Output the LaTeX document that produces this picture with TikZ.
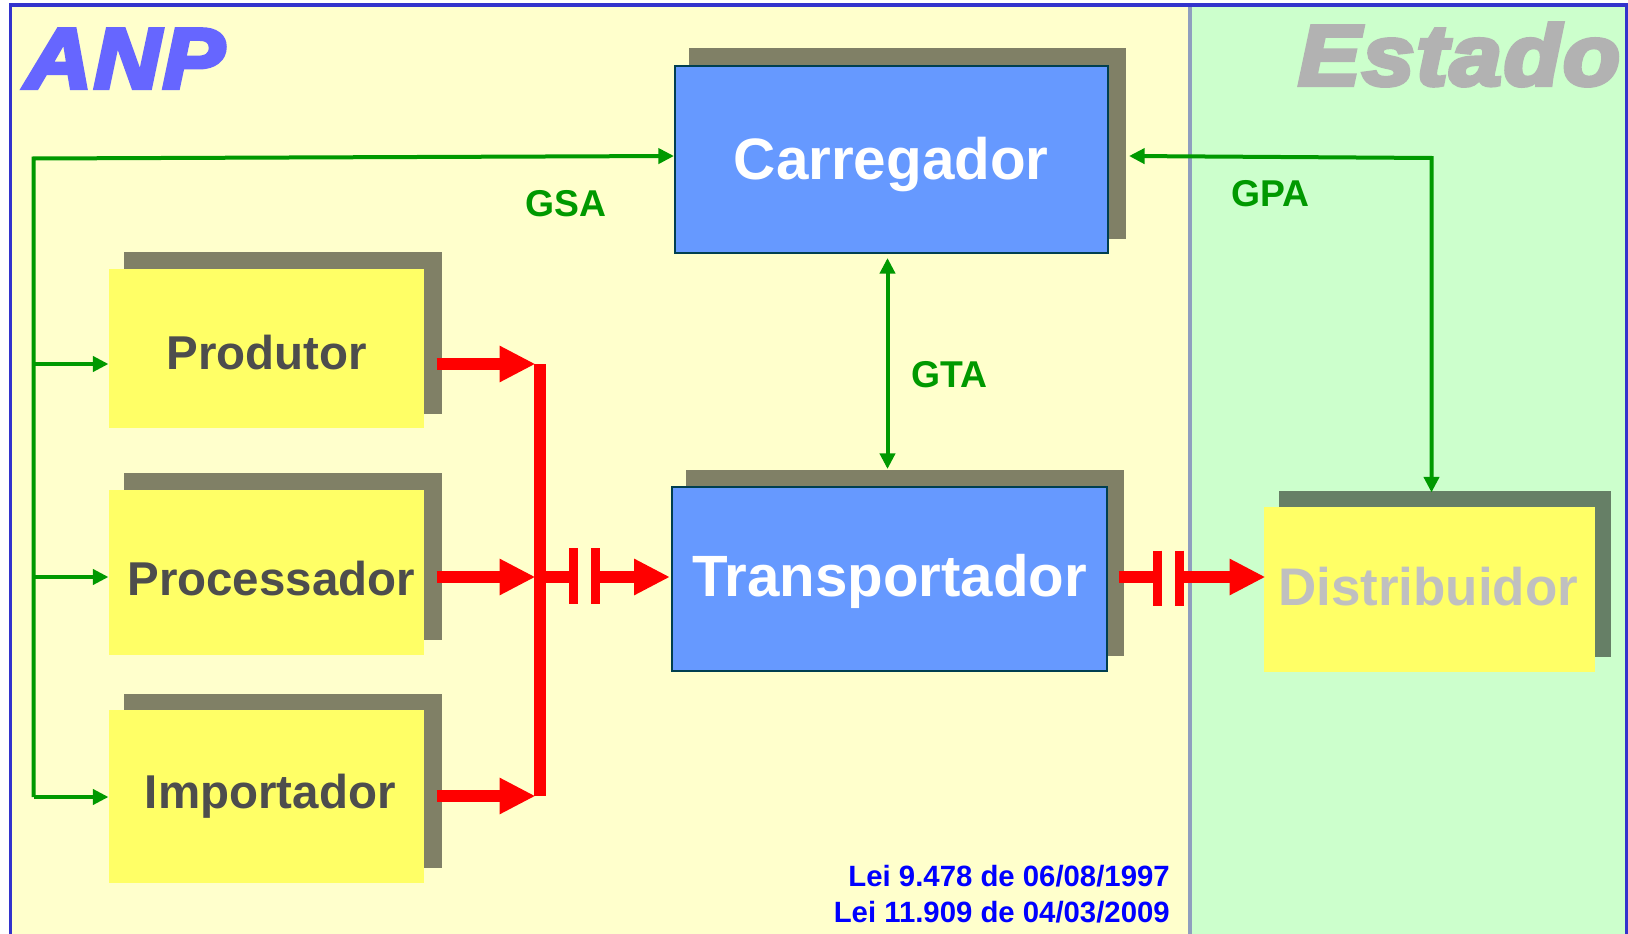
\documentclass[tikz,border=0pt]{standalone}
\usepackage{graphicx}
\usepackage{fontspec}
\setmainfont{Liberation Sans}
\newfontface\heavyfont{Liberation Sans Bold Italic}[FakeBold=5,LetterSpace=2.5]
\usetikzlibrary{arrows.meta,calc}
\definecolor{paleyellow}{HTML}{FFFFCC}
\definecolor{palegreen}{HTML}{CCFFCC}
\definecolor{framecol}{HTML}{3333CC}
\definecolor{dividercol}{HTML}{8F9FBF}
\definecolor{boxyellow}{HTML}{FFFF66}
\definecolor{boxblue}{HTML}{6699FF}
\definecolor{boxedge}{HTML}{003F4F}
\definecolor{shadeY}{HTML}{808066}
\definecolor{shadeG}{HTML}{667F66}
\definecolor{linkgreen}{HTML}{009900}
\definecolor{darktext}{HTML}{4D4D4D}
\definecolor{fadetext}{HTML}{C0C0C0}
\definecolor{anpcol}{HTML}{6666FF}
\definecolor{estadocol}{HTML}{B2B2B2}
\tikzset{
  flowbase/.style={inner sep=0pt,outer sep=0pt,anchor=center,font=\bfseries},
  yellowbox/.style={flowbase,fill=boxyellow,text=darktext},
  bluebox/.style={flowbase,fill=boxblue,draw=boxedge,line width=1.5pt,text=white},
  shadebox/.style={inner sep=0pt,outer sep=0pt,anchor=center},
  greenlink/.style={draw=linkgreen,line width=3pt,line join=miter},
  greenhead/.style={-{Triangle[length=11.7pt,width=11.25pt]}},
  greenboth/.style={{Triangle[length=11.7pt,width=11.25pt]}-{Triangle[length=11.7pt,width=11.25pt]}},
  redlink/.style={draw=red,line width=9pt},
  redhead/.style={redlink,-{Triangle[length=27pt,width=25.5pt]}},
  redbar/.style={draw=red,line width=6.75pt},
  linklabel/.style={anchor=base,inner sep=0pt,text=linkgreen,font=\fontsize{28}{32}\selectfont\bfseries},
  lawlabel/.style={anchor=base east,inner sep=0pt,text=blue,font=\fontsize{22}{26}\selectfont\bfseries},
  bigmark/.style={anchor=base west,inner sep=0pt,font=\fontsize{64}{70}\selectfont\heavyfont}
}
% name, style, x1, y1, x2, y2, baseline, text shift, text (all in reference pixels)
\newcommand{\flowbox}[9]{%
  \pgfmathsetmacro\fbW{(#5-#3)*0.75}%
  \pgfmathsetmacro\fbH{(#7-#4)*0.75}%
  \pgfmathsetmacro\fbD{(#6-#7)*0.75}%
  \pgfmathsetmacro\fbS{2*(#8)*0.75}%
  \node[#2,minimum width=\fbW pt,text height=\fbH pt,text depth=\fbD pt] (#1) at ({(#3+#5)/2},{(#4+#6)/2}) {\hspace*{\fbS pt}#9};}
\newcommand{\shadeblock}[6]{%
  \pgfmathsetmacro\fbW{(#5-#3)*0.75}%
  \pgfmathsetmacro\fbH{(#6-#4)*0.75}%
  \node[shadebox,fill=#2,minimum width=\fbW pt,minimum height=\fbH pt] (#1) at ({(#3+#5)/2},{(#4+#6)/2}) {};}
\begin{document}
\begin{tikzpicture}[x=0.75pt,y=-0.75pt]
\useasboundingbox (0,0) rectangle (1628,934);
% panels
\fill[white] (0,0) rectangle (1628,934);
\fill[paleyellow] (10,5) rectangle (1190,934);
\fill[palegreen] (1190,5) rectangle (1627,934);
\draw[dividercol,line width=2.6pt] (1190,5) -- (1190,934);
\draw[framecol,line width=2.4pt] (10.5,934) -- (10.5,5) -- (1626.5,5) -- (1626.5,934);
% headings
\node[bigmark,text=anpcol] (anp) at (25,88) {\scalebox{1.08}[1]{ANP}};
\node[bigmark,text=estadocol] (estado) at (1298,85) {\scalebox{1.09}[1]{Estado}};
% shadows
\shadeblock{carrS}{shadeY}{689}{48}{1126}{239}
\shadeblock{transS}{shadeY}{686}{470}{1124}{656}
\shadeblock{prodS}{shadeY}{124}{252}{441.5}{414}
\shadeblock{procS}{shadeY}{124}{473}{441.5}{640}
\shadeblock{impS}{shadeY}{124}{693.5}{441.5}{868}
\shadeblock{distS}{shadeG}{1279}{490.5}{1611}{657}
% boxes
\flowbox{carr}{bluebox,font=\fontsize{43.8}{50}\selectfont\bfseries}{674.5}{66}{1108}{253.5}{179.5}{0}{Carregador}
\flowbox{trans}{bluebox,font=\fontsize{43.7}{50}\selectfont\bfseries}{672}{487}{1107}{671}{596.5}{0}{Transportador}
\flowbox{prod}{yellowbox,font=\fontsize{35.6}{40}\selectfont\bfseries}{108.5}{269}{424}{428}{369.5}{0.5}{Produtor}
\flowbox{proc}{yellowbox,font=\fontsize{35.6}{40}\selectfont\bfseries}{108.5}{490}{424}{655}{595}{5}{Processador}
\flowbox{imp}{yellowbox,font=\fontsize{35.6}{40}\selectfont\bfseries}{108.5}{710}{424}{882.5}{808}{4}{Importador}
\flowbox{dist}{yellowbox,text=fadetext,font=\fontsize{39.7}{44}\selectfont\bfseries}{1263.5}{507}{1595}{672}{605}{-1}{Distribuidor}
% green connectors
\coordinate (trunkTop) at (33.5,158.5);
\coordinate (trunkProd) at (33.5,364);
\coordinate (trunkProc) at (33.5,577);
\coordinate (trunkImp) at (33.5,797);
\coordinate (gsaEnd) at (674,156);
\coordinate (gpaEnd) at (1129,156);
\coordinate (gpaCorner) at (1431.5,158);
\coordinate (gtaTop) at (887.5,258);
\coordinate (gtaBottom) at (887.5,469);
\draw[greenlink,greenhead] (trunkImp) -- (trunkTop) -- (gsaEnd);
\draw[greenlink,greenhead] (trunkProd) -- (trunkProd -| prod.west);
\draw[greenlink,greenhead] (trunkProc) -- (trunkProc -| proc.west);
\draw[greenlink,greenhead] (trunkImp) -- (trunkImp -| imp.west);
\draw[greenlink,greenboth] (gpaEnd) -- (gpaCorner) -- ([yshift=-1.5pt]gpaCorner |- distS.north);
\draw[greenlink,greenboth] (gtaTop) -- (gtaBottom);
% red connectors
\coordinate (busTop) at (539.7,364);
\coordinate (busMid) at (539.7,577);
\coordinate (busBot) at (539.7,796);
\coordinate (prodOut) at (436.7,364);
\coordinate (procOut) at (436.7,577);
\coordinate (impOut) at (436.7,796);
\coordinate (barA) at (573.5,577);
\coordinate (barB) at (595.5,577);
\coordinate (transIn) at (670,577);
\coordinate (transOut) at (1118.5,577);
\coordinate (barC) at (1157.5,577);
\coordinate (barD) at (1179.5,577);
\draw[redlink] (busTop) -- (busBot);
\draw[redhead] (prodOut) -- (535.5,364);
\draw[redhead] (procOut) -- (535.5,577);
\draw[redhead] (impOut) -- (535.5,796);
\draw[redlink] (busMid) -- (barA);
\draw[redbar] (573.5,548) -- (573.5,604);
\draw[redbar] (595.5,548) -- (595.5,604);
\draw[redhead] (barB) -- (transIn);
\draw[redlink] (transOut) -- (barC);
\draw[redbar] (1157.5,550.5) -- (1157.5,606);
\draw[redbar] (1179.5,550.5) -- (1179.5,606);
\draw[redhead] (barD) -- ([xshift=1.5pt]barD -| dist.west);
% labels
\node[linklabel] (gsa) at (566,216.5) {GSA};
\node[linklabel] (gpa) at (1270.5,206.5) {GPA};
\node[linklabel] (gta) at (949.5,387.5) {GTA};
\node[lawlabel] (leiA) at (1170,886) {Lei 9.478 de 06/08/1997};
\node[lawlabel] (leiB) at (1170,922.5) {Lei 11.909 de 04/03/2009};
\end{tikzpicture}
\end{document}
